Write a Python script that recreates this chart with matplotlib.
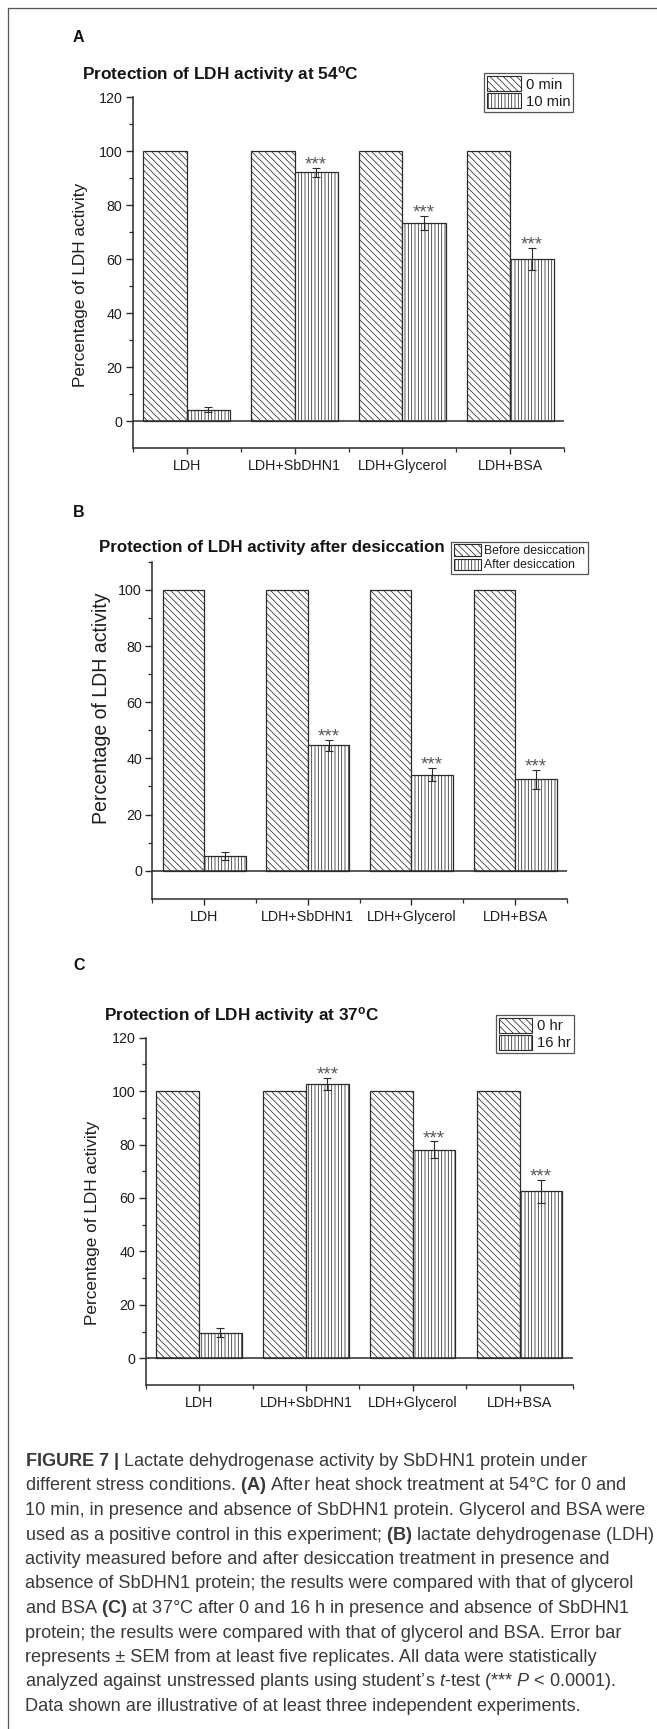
import matplotlib
matplotlib.use('Agg')
import matplotlib.pyplot as plt
from matplotlib.patches import Patch
from matplotlib.lines import Line2D
from matplotlib.ticker import FixedLocator
import numpy as np

plt.rcParams['font.family'] = ['Liberation Sans', 'DejaVu Sans']
plt.rcParams['mathtext.fontset'] = 'custom'
plt.rcParams['mathtext.rm'] = 'Liberation Sans'
plt.rcParams['mathtext.it'] = 'Liberation Sans:italic'
plt.rcParams['mathtext.bf'] = 'Liberation Sans:bold'
plt.rcParams['hatch.linewidth'] = 0.55

# ---------------- data ----------------
categories = ['LDH', 'LDH+SbDHN1', 'LDH+Glycerol', 'LDH+BSA']

a_labels = ['0 min', '10 min']
a_before = [100, 100, 100, 100]
a_after = [4.3, 92.2, 73.5, 60.0]
a_err = [1.0, 1.7, 2.6, 4.1]
a_sig = ['', '***', '***', '***']

b_labels = ['Before desiccation', 'After desiccation']
b_before = [100, 100, 100, 100]
b_after = [5.3, 44.7, 34.2, 32.6]
b_err = [1.5, 2.0, 2.3, 3.4]
b_sig = ['', '***', '***', '***']

c_labels = ['0 hr', '16 hr']
c_before = [100, 100, 100, 100]
c_after = [9.6, 102.7, 78.0, 62.5]
c_err = [1.7, 2.4, 3.2, 4.4]
c_sig = ['', '***', '***', '***']

a_yticks = [0, 20, 40, 60, 80, 100, 120]
b_yticks = [0, 20, 40, 60, 80, 100]
c_yticks = [0, 20, 40, 60, 80, 100, 120]
minor_yticks = [10, 30, 50, 70, 90, 110]

caption_lines = [
    r"$\mathbf{FIGURE\ 7\ |}$ Lactate dehydrogenase activity by SbDHN1 protein under",
    r"different stress conditions. $\mathbf{(A)}$ After heat shock treatment at 54°C for 0 and",
    r"10 min, in presence and absence of SbDHN1 protein. Glycerol and BSA were",
    r"used as a positive control in this experiment; $\mathbf{(B)}$ lactate dehydrogenase (LDH)",
    r"activity measured before and after desiccation treatment in presence and",
    r"absence of SbDHN1 protein; the results were compared with that of glycerol",
    r"and BSA $\mathbf{(C)}$ at 37°C after 0 and 16 h in presence and absence of SbDHN1",
    r"protein; the results were compared with that of glycerol and BSA. Error bar",
    r"represents ± SEM from at least five replicates. All data were statistically",
    r"analyzed against unstressed plants using student’s $\mathit{t}$-test (*** $\mathit{P}$ < 0.0001).",
    r"Data shown are illustrative of at least three independent experiments.",
]

# ---------------- layout ----------------
W, H = 657, 1729
fig = plt.figure(figsize=(W / 100, H / 100), dpi=100)
fig.patch.set_facecolor('white')
EC = '#2b2b2b'
TXT = '#1e1e1e'
HATCH1 = '\\' * 5
HATCH2 = '|' * 5


def fx(x):
    return x / W


def fy(y):
    return 1 - y / H


def axes_px(left, top, right, bottom):
    return fig.add_axes([left / W, 1 - bottom / H, (right - left) / W, (bottom - top) / H])


renderer = fig.canvas.get_renderer()


def fit(t, target):
    w = t.get_window_extent(renderer).width
    t.set_fontsize(t.get_fontsize() * target / w)


def panel(ax, before, after, err, sig, ylim, yticks):
    x = np.arange(len(categories))
    w = 0.4
    ax.bar(x - w / 2, before, w, facecolor='white', edgecolor=EC, hatch=HATCH1,
           linewidth=0.9, zorder=2)
    ax.bar(x + w / 2, after, w, facecolor='white', edgecolor=EC, hatch=HATCH2,
           linewidth=0.9, zorder=2)
    ax.errorbar(x + w / 2, after, yerr=err, fmt='none', ecolor=EC, elinewidth=0.8,
                capsize=2.6, capthick=0.8, zorder=3)
    for xi, a, e, s in zip(x, after, err, sig):
        if s:
            ax.annotate(s, (xi + w / 2, a + e), xytext=(0, -1.2), textcoords='offset points',
                        ha='center', va='baseline', fontsize=13.5, color='#5a5a5a')
    ax.axhline(0, color=EC, lw=1.1, zorder=4)
    ax.set_xlim(-0.5, 3.5)
    ax.set_ylim(*ylim)
    for s in ['top', 'right']:
        ax.spines[s].set_visible(False)
    for s in ['left', 'bottom']:
        ax.spines[s].set_color(EC)
        ax.spines[s].set_linewidth(1.1)
    ax.set_xticks(x)
    ax.set_xticklabels(categories)
    ax.xaxis.set_minor_locator(FixedLocator([-0.5, 0.5, 1.5, 2.5, 3.5]))
    ax.set_yticks(yticks)
    ax.yaxis.set_minor_locator(FixedLocator(minor_yticks))
    ax.tick_params(axis='y', which='major', direction='out', length=5, width=1.0,
                   pad=2.5, labelsize=10.3, colors=EC, labelcolor=TXT)
    ax.tick_params(axis='y', which='minor', direction='out', length=2.6, width=0.9, colors=EC)
    ax.tick_params(axis='x', which='major', direction='out', length=4, width=1.0,
                   pad=4, labelsize=10.3, colors=EC, labelcolor=TXT)
    ax.tick_params(axis='x', which='minor', direction='out', length=2.6, width=0.9, colors=EC)
    ax.set_facecolor('none')


def legend(labels, anchor, fs, hl, hh):
    handles = [Patch(facecolor='white', edgecolor=EC, hatch=HATCH1, lw=0.8, label=labels[0]),
               Patch(facecolor='white', edgecolor=EC, hatch=HATCH2, lw=0.8, label=labels[1])]
    leg = fig.legend(handles=handles, loc='upper left', bbox_to_anchor=(fx(anchor[0]), fy(anchor[1])),
                     bbox_transform=fig.transFigure, frameon=True, fancybox=False,
                     edgecolor='#555555', framealpha=1, fontsize=fs, handlelength=hl,
                     handleheight=hh, handletextpad=0.3, labelspacing=0.12, borderpad=0.2,
                     borderaxespad=0)
    leg.get_frame().set_linewidth(0.9)
    for t in leg.get_texts():
        t.set_color(TXT)
    return leg


# Panel A
axA = axes_px(132.7, 97.3, 564.3, 448.3)
panel(axA, a_before, a_after, a_err, a_sig, (-10, 120), a_yticks)
# Panel B
axB = axes_px(152.3, 561.8, 567.0, 898.8)
panel(axB, b_before, b_after, b_err, b_sig, (-10, 110), b_yticks)
# Panel C
axC = axes_px(145.7, 1037.7, 573.0, 1385.0)
panel(axC, c_before, c_after, c_err, c_sig, (-10, 120), c_yticks)

legend(a_labels, (484.3, 73.3), 10.6, 2.3, 1.15)
legend(b_labels, (451.3, 541.7), 8.8, 2.2, 1.07)
legend(c_labels, (496.3, 1015.0), 10.6, 2.25, 1.15)

# panel letters
for lab, yc in [('A', 37), ('B', 512.7), ('C', 965)]:
    fig.text(fx(73), fy(yc), lab, fontsize=11.5, fontweight='bold', color='#111111',
             ha='left', va='center')

# titles
for txt, x0, yc, wt in [(r'Protection of LDH activity at 54$^\mathbf{o}$C', 82, 75, 277),
                        ('Protection of LDH activity after desiccation', 99, 547.7, 345),
                        (r'Protection of LDH activity at 37$^\mathbf{o}$C', 104, 1015, 275)]:
    t = fig.text(fx(x0), fy(yc), txt, fontsize=12, fontweight='bold', color='#151515',
                 ha='left', va='center')
    fit(t, wt)

# y labels
for xc, yc, length in [(81, 284.5, 205), (101.7, 708.7, 232), (93, 1222.8, 204)]:
    t = fig.text(fx(xc), fy(yc), 'Percentage of LDH activity', rotation=90, fontsize=12.5,
                 color=TXT, ha='center', va='center')
    fit_h = t.get_window_extent(renderer).height
    t.set_fontsize(t.get_fontsize() * length / fit_h)

# border lines of the figure box
fig.add_artist(Line2D([fx(8), fx(8)], [fy(8), 0], color='#555555', lw=0.9))
fig.add_artist(Line2D([fx(8), 1], [fy(8), fy(8)], color='#555555', lw=0.9))

# caption
cap_texts = []
for i, line in enumerate(caption_lines):
    t = fig.text(fx(25), fy(1466 + 24.5 * i), line, fontsize=12.5, color='#3a3a3a',
                 ha='left', va='baseline')
    cap_texts.append(t)
w4 = cap_texts[3].get_window_extent(renderer).width
scale = 630 / w4
for t in cap_texts:
    t.set_fontsize(t.get_fontsize() * scale)
# align the left edges of all caption lines
for t in cap_texts:
    x0 = t.get_window_extent(renderer).x0
    px, py = t.get_position()
    t.set_position((px + (25 - x0) / W, py))

fig.savefig('out.png', dpi=100, facecolor='white')
